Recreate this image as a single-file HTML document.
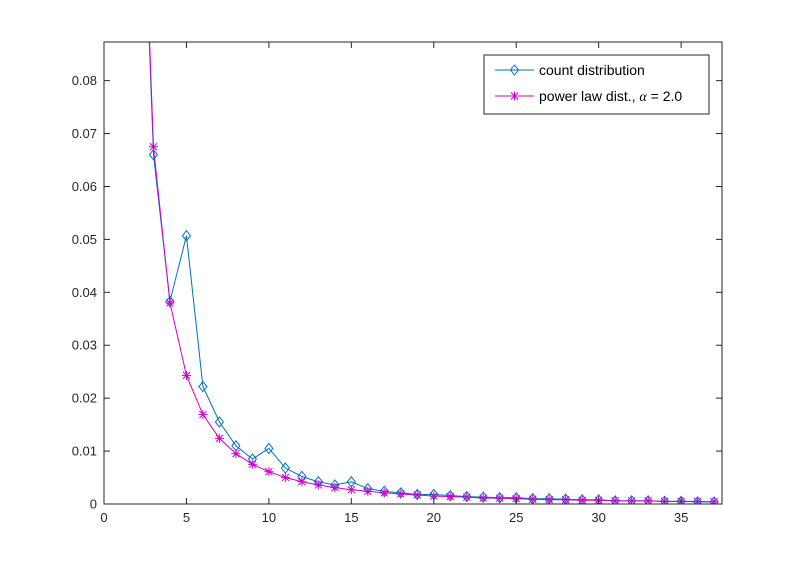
<!DOCTYPE html>
<html><head><meta charset="utf-8"><style>
body{margin:0;background:#fff;}
svg{display:block;font-family:"Liberation Sans",Arial,sans-serif;}
</style></head><body>
<svg id="chart" width="799" height="566" viewBox="0 0 799 566" xmlns="http://www.w3.org/2000/svg">
<rect width="799" height="566" fill="#fff"/>
<defs><clipPath id="clip"><rect x="104" y="42" width="618" height="462"/></clipPath></defs>
<g id="grid"></g>
<g id="series" clip-path="url(#clip)"></g>
<g id="axes"></g>
<g id="legend">
<rect x="484" y="55" width="225" height="59" fill="#fff" stroke="#262626" stroke-width="1"/>
<line x1="495" y1="70" x2="534" y2="70" stroke="#0072BD"/>
<path d="M514.5 65 L518.5 70 L514.5 75 L510.5 70 Z" fill="none" stroke="#0072BD"/>
<text x="539" y="75" font-size="14" fill="#000">count distribution</text>
<line x1="495" y1="96" x2="534" y2="96" stroke="#CC00CC"/>
<g stroke="#CC00CC"><line x1="510" y1="96" x2="519" y2="96"/><line x1="514.5" y1="91.5" x2="514.5" y2="100.5"/><line x1="511" y1="92.5" x2="518" y2="99.5"/><line x1="518" y1="92.5" x2="511" y2="99.5"/></g>
<text x="539" y="101" font-size="14" fill="#000">power law dist., <tspan font-family="Liberation Serif,serif" font-style="italic">α</tspan> = 2.0</text>
</g>
</svg>
<script>
const xs=[1,2,3,4,5,6,7,8,9,10,11,12,13,14,15,16,17,18,19,20,21,22,23,24,25,26,27,28,29,30,31,32,33,34,35,36,37];
const countVals=[0.5,0.15,0.066,0.0383,0.0507,0.0222,0.0155,0.011,0.0085,0.0105,0.0068,0.0052,0.0042,0.0036,0.0042,0.0029,0.0024,0.0021,0.0018,0.0018,0.0016,0.0014,0.0013,0.0012,0.0012,0.0010,0.0010,0.0009,0.0008,0.0008,0.0006,0.0006,0.0006,0.0005,0.0005,0.0004,0.0004];
const powerVals=[0.6079,0.1520,0.0675,0.0380,0.0243,0.0169,0.0124,0.0095,0.0075,0.0061,0.0050,0.0042,0.0036,0.0031,0.0027,0.0024,0.0021,0.0019,0.0017,0.0015,0.0014,0.0013,0.0011,0.0011,0.0010,0.0009,0.0008,0.0008,0.0007,0.0007,0.0006,0.0006,0.0006,0.0005,0.0005,0.0005,0.0004];
const xTicks=[0,5,10,15,20,25,30,35];
const yTicks=[0,0.01,0.02,0.03,0.04,0.05,0.06,0.07,0.08];
const yTickLabels=["0","0.01","0.02","0.03","0.04","0.05","0.06","0.07","0.08"];
const X0=104,X1=722,Y0=504,Y1=42,xMax=37.48,yMax=0.0873;
const sx=v=>X0+v/xMax*(X1-X0);
const sy=v=>Y0-v/yMax*(Y0-Y1);
const NS="http://www.w3.org/2000/svg";
function mk(tag,attrs,parent){const e=document.createElementNS(NS,tag);for(const k in attrs)e.setAttribute(k,attrs[k]);parent.appendChild(e);return e;}
const axes=document.getElementById('axes'),ser=document.getElementById('series');
// series lines
const blue=mk('polyline',{points:xs.map((x,i)=>sx(x)+','+sy(countVals[i])).join(' '),fill:'none',stroke:'#0072BD','stroke-width':1},ser);


const mag=mk('polyline',{points:xs.map((x,i)=>sx(x)+','+sy(powerVals[i])).join(' '),fill:'none',stroke:'#CC00CC','stroke-width':1},ser);


xs.forEach((x,i)=>{
 const cx=sx(x),cy=sy(countVals[i]);
 const d=mk('path',{d:`M${cx} ${cy-5} L${cx+4} ${cy} L${cx} ${cy+5} L${cx-4} ${cy} Z`,fill:'none',stroke:'#0072BD'},ser);
 
 
});
xs.forEach((x,i)=>{
 const cx=sx(x),cy=sy(powerVals[i]);
 const g=mk('g',{stroke:'#CC00CC'},ser);
 
 
 mk('line',{x1:cx-4.5,y1:cy,x2:cx+4.5,y2:cy},g);
 mk('line',{x1:cx,y1:cy-4.5,x2:cx,y2:cy+4.5},g);
 mk('line',{x1:cx-3.5,y1:cy-3.5,x2:cx+3.5,y2:cy+3.5},g);
 mk('line',{x1:cx+3.5,y1:cy-3.5,x2:cx-3.5,y2:cy+3.5},g);
});
// axes box
const box=mk('rect',{x:X0,y:Y1,width:X1-X0,height:Y0-Y1,fill:'none',stroke:'#262626','stroke-width':1},axes);


xTicks.forEach(t=>{
 const x=sx(t);
 mk('line',{x1:x,y1:Y0,x2:x,y2:Y0-6,stroke:'#262626'},axes);
 mk('line',{x1:x,y1:Y1,x2:x,y2:Y1+6,stroke:'#262626'},axes);
 const tx=mk('text',{x:x,y:Y0+18,'font-size':13,'text-anchor':'middle',fill:'#262626'},axes);
 tx.textContent=t;
 
 
});
yTicks.forEach((t,i)=>{
 const y=sy(t);
 mk('line',{x1:X0,y1:y,x2:X0+6,y2:y,stroke:'#262626'},axes);
 mk('line',{x1:X1,y1:y,x2:X1-6,y2:y,stroke:'#262626'},axes);
 const tx=mk('text',{x:X0-7,y:y+4.5,'font-size':13,'text-anchor':'end',fill:'#262626'},axes);
 tx.textContent=yTickLabels[i];
 
 
});
</script>
</body></html>
